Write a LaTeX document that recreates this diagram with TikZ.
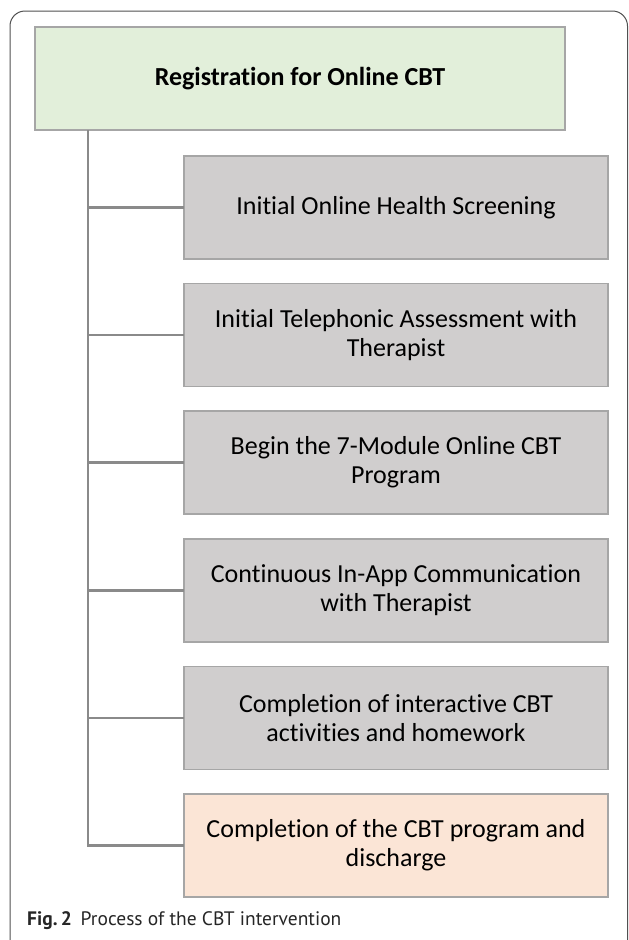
\documentclass[tikz,border=0pt]{standalone}
\usepackage{fontspec}
\setmainfont{Carlito}[Ligatures=NoCommon]
\newfontfamily\capfont{PT Sans}
\usetikzlibrary{positioning}

\definecolor{regGreen}{RGB}{226,239,218}
\definecolor{stepGray}{RGB}{208,206,206}
\definecolor{endPeach}{RGB}{251,229,214}
\definecolor{boxLine}{RGB}{166,166,166}
\definecolor{treeLine}{RGB}{138,138,138}
\definecolor{frameLine}{RGB}{80,80,80}

\begin{document}
\begin{tikzpicture}[
  x=1pt, y=1pt,
  font=\fontsize{26}{29}\selectfont,
  box/.style={draw=boxLine, line width=1.5pt, fill=stepGray, align=center,
    minimum width=424pt, minimum height=103pt, inner sep=0pt, outer sep=0pt},
  regbox/.style={box, fill=regGreen, minimum width=530pt, font=\fontsize{26}{29}\selectfont\bfseries},
  tree/.style={draw=treeLine, line width=2.5pt}
]
  \useasboundingbox (0,0) rectangle (629,-940);
  \draw[frameLine, line width=1pt, rounded corners=15pt] (10,-11) rectangle (627.5,-960);

  \node[regbox] (reg) at (300,-78.5) {Registration for Online CBT};
  \node[box] (s1) at (396,-207.5) {Initial Online Health Screening};
  \node[box, below=24.6pt of s1] (s2) {Initial Telephonic Assessment with\\Therapist};
  \node[box, below=24.6pt of s2] (s3) {Begin the 7-Module Online CBT\\Program};
  \node[box, below=24.6pt of s3] (s4) {Continuous In-App Communication\\with Therapist};
  \node[box, below=24.6pt of s4] (s5) {Completion of interactive CBT\\activities and homework};
  \node[box, fill=endPeach, below=24.6pt of s5] (s6) {Completion of the CBT program and\\discharge};

  % tree connectors
  \coordinate (trunk) at (88,-130);
  \draw[tree] (trunk) |- (s6.west);
  \foreach \s in {s1,s2,s3,s4,s5}
    \draw[tree] (trunk |- \s.west) -- (\s.west);

  \node[anchor=base west, font=\capfont\fontsize{19.5}{22}\selectfont, text=black!85, inner sep=0pt]
    (cap) at (27,-925) {\textbf{Fig.\,2}\hspace{0.45em}Process of the CBT intervention};
\end{tikzpicture}
\end{document}
